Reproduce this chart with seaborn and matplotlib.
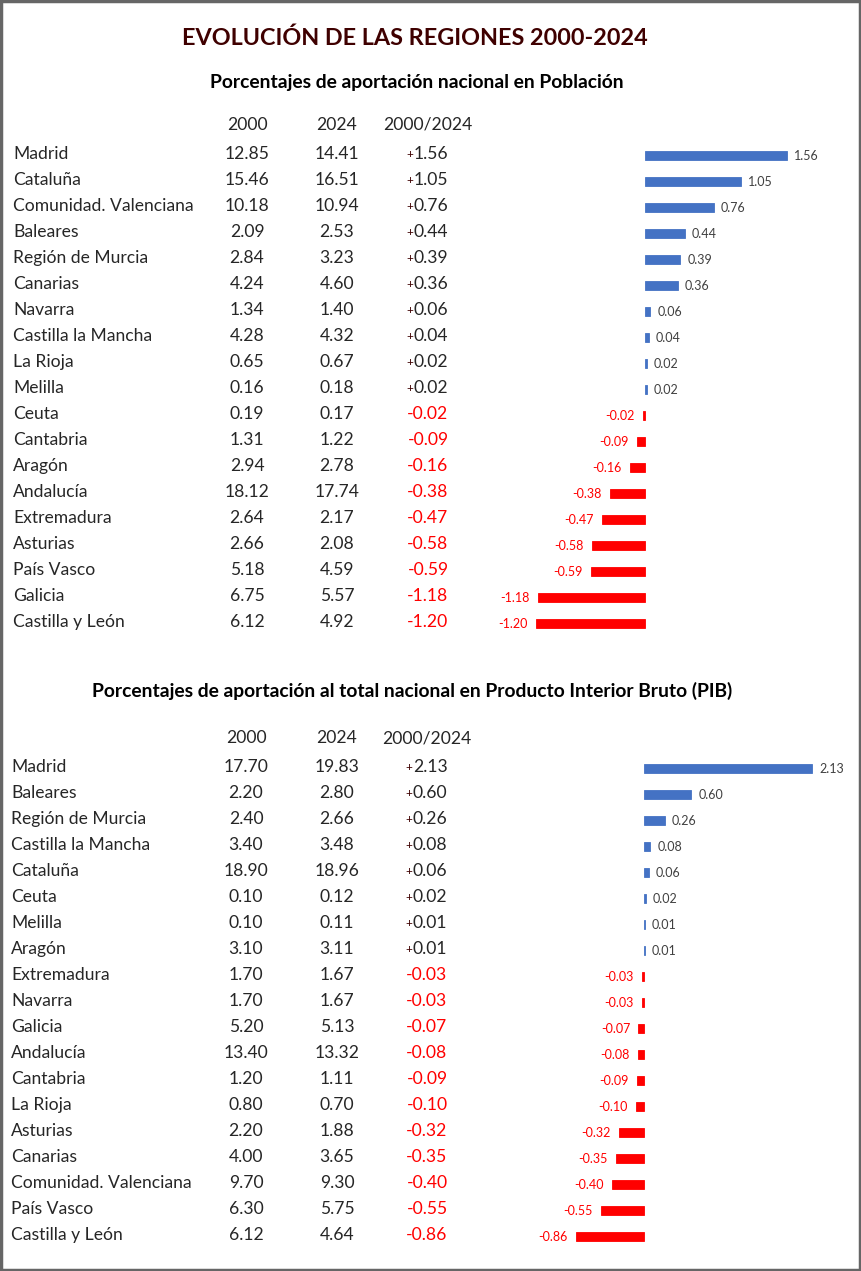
import matplotlib
matplotlib.use('Agg')
import matplotlib.pyplot as plt
import pandas as pd
import seaborn as sns
from matplotlib.patches import Rectangle

# --- datos: población ---
pob_regiones = ['Madrid', 'Cataluña', 'Comunidad. Valenciana', 'Baleares', 'Región de Murcia',
                'Canarias', 'Navarra', 'Castilla la Mancha', 'La Rioja', 'Melilla', 'Ceuta',
                'Cantabria', 'Aragón', 'Andalucía', 'Extremadura', 'Asturias', 'País Vasco',
                'Galicia', 'Castilla y León']
pob_2000 = [12.85, 15.46, 10.18, 2.09, 2.84, 4.24, 1.34, 4.28, 0.65, 0.16, 0.19,
            1.31, 2.94, 18.12, 2.64, 2.66, 5.18, 6.75, 6.12]
pob_2024 = [14.41, 16.51, 10.94, 2.53, 3.23, 4.60, 1.40, 4.32, 0.67, 0.18, 0.17,
            1.22, 2.78, 17.74, 2.17, 2.08, 4.59, 5.57, 4.92]
pob_dif = [1.56, 1.05, 0.76, 0.44, 0.39, 0.36, 0.06, 0.04, 0.02, 0.02, -0.02,
           -0.09, -0.16, -0.38, -0.47, -0.58, -0.59, -1.18, -1.20]

# --- datos: PIB ---
pib_regiones = ['Madrid', 'Baleares', 'Región de Murcia', 'Castilla la Mancha', 'Cataluña',
                'Ceuta', 'Melilla', 'Aragón', 'Extremadura', 'Navarra', 'Galicia', 'Andalucía',
                'Cantabria', 'La Rioja', 'Asturias', 'Canarias', 'Comunidad. Valenciana',
                'País Vasco', 'Castilla y León']
pib_2000 = [17.70, 2.20, 2.40, 3.40, 18.90, 0.10, 0.10, 3.10, 1.70, 1.70, 5.20, 13.40,
            1.20, 0.80, 2.20, 4.00, 9.70, 6.30, 6.12]
pib_2024 = [19.83, 2.80, 2.66, 3.48, 18.96, 0.12, 0.11, 3.11, 1.67, 1.67, 5.13, 13.32,
            1.11, 0.70, 1.88, 3.65, 9.30, 5.75, 4.64]
pib_dif = [2.13, 0.60, 0.26, 0.08, 0.06, 0.02, 0.01, 0.01, -0.03, -0.03, -0.07, -0.08,
           -0.09, -0.10, -0.32, -0.35, -0.40, -0.55, -0.86]

W, H = 862, 1271
AZUL = '#4472C4'
ROJO = '#FF0000'
FS = 12.6

sns.set_theme(style='white')
plt.rcParams['font.family'] = ['Lato', 'DejaVu Sans']

fig = plt.figure(figsize=(W / 100, H / 100), dpi=100)
fig.patch.set_facecolor('white')


def fx(x):
    return x / W


def fy(y):
    return 1 - y / H


def txt(x, y, s, **kw):
    fig.text(fx(x), fy(y), s, **kw)


def seccion(regiones, v2000, v2024, dif, y0, cols, x_name, x0_bar, escala):
    # cabeceras
    txt(cols[0], y0 - 29, '2000', ha='center', va='baseline', fontsize=FS)
    txt(cols[1], y0 - 29, '2024', ha='center', va='baseline', fontsize=FS)
    txt(cols[2], y0 - 29, '2000/2024', ha='center', va='baseline', fontsize=FS)
    for i, r in enumerate(regiones):
        yb = y0 + 26 * i
        txt(x_name, yb, r, ha='left', va='baseline', fontsize=FS)
        txt(cols[0], yb, f'{v2000[i]:.2f}', ha='center', va='baseline', fontsize=FS)
        txt(cols[1], yb, f'{v2024[i]:.2f}', ha='center', va='baseline', fontsize=FS)
        d = dif[i]
        if d >= 0:
            txt(cols[2] - 14, yb, f'{d:.2f}', ha='left', va='baseline', fontsize=FS)
            txt(cols[2] - 15, yb - 1, '+', ha='right', va='baseline', fontsize=8.5,
                color='#3f0000')
        else:
            txt(cols[2], yb, f'{d:.2f}', ha='center', va='baseline', fontsize=FS,
                color=ROJO)

    # barras
    ax_l, ax_r = 470, 850
    top = y0 - 6 - 13
    bot = top + 26 * len(regiones)
    ax = fig.add_axes([fx(ax_l), fy(bot), (ax_r - ax_l) / W, (bot - top) / H])
    df = pd.DataFrame({'region': regiones, 'dif': dif,
                       'signo': ['pos' if d >= 0 else 'neg' for d in dif]})
    sns.barplot(data=df, x='dif', y='region', hue='signo', orient='h',
                palette={'pos': AZUL, 'neg': ROJO}, width=0.36, legend=False,
                dodge=False, ax=ax, saturation=1, linewidth=0.6)
    for p in ax.patches:
        p.set_edgecolor(p.get_facecolor())
    ax.set_xlim((ax_l - x0_bar) / escala, (ax_r - x0_bar) / escala)
    ax.set_ylim(len(regiones) - 0.5 - 0.1, -0.5 - 0.1)
    ax.axis('off')
    for i, d in enumerate(dif):
        if d >= 0:
            ax.annotate(f'{d:.2f}', (d, i), xytext=(5, 0), textcoords='offset points',
                        ha='left', va='center', fontsize=9, color='#404040')
        else:
            ax.annotate(f'{d:.2f}', (d, i), xytext=(-6, 0), textcoords='offset points',
                        ha='right', va='center', fontsize=9, color=ROJO)


# titulos
txt(415, 45, 'EVOLUCIÓN DE LAS REGIONES 2000-2024', ha='center', va='baseline',
    fontsize=16.8, fontweight='bold', color='#3f0000')
txt(417, 88, 'Porcentajes de aportación nacional en Población', ha='center',
    va='baseline', fontsize=13.9, fontweight='bold', color='black')
txt(412, 697, 'Porcentajes de aportación al total nacional en Producto Interior Bruto (PIB)',
    ha='center', va='baseline', fontsize=13.9, fontweight='bold', color='black')

seccion(pob_regiones, pob_2000, pob_2024, pob_dif, 159, (247, 337, 428), 13, 645, 91)
seccion(pib_regiones, pib_2000, pib_2024, pib_dif, 772, (246, 337, 427), 11, 644, 79)

# marco
fig.patches.append(Rectangle((0.001, 0.001), 0.997, 0.998, transform=fig.transFigure,
                             fill=False, edgecolor='#666666', linewidth=2.5))

fig.savefig('out.png', dpi=100)
